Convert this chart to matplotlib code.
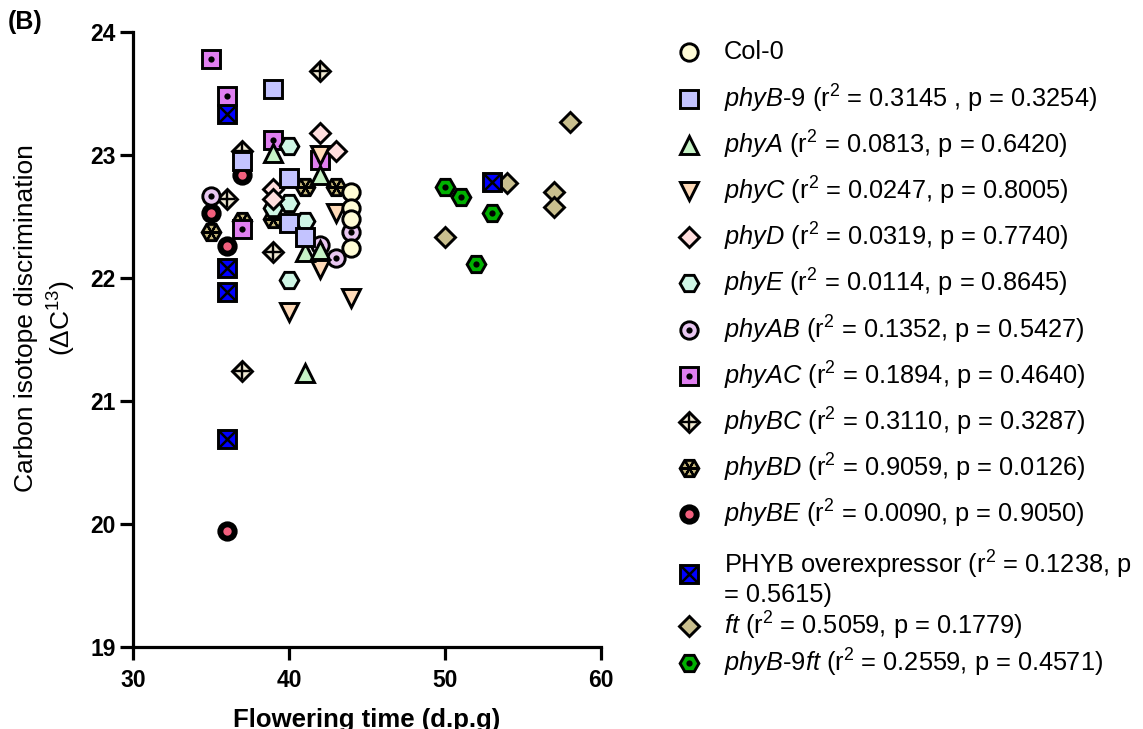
import matplotlib
matplotlib.use("Agg")
import matplotlib.pyplot as plt

plt.rcParams['font.family'] = ['Liberation Sans', 'DejaVu Sans']
plt.rcParams['mathtext.fontset'] = 'custom'
plt.rcParams['mathtext.rm'] = 'Liberation Sans'
plt.rcParams['mathtext.it'] = 'Liberation Sans:italic'
plt.rcParams['mathtext.bf'] = 'Liberation Sans:bold'

# flowering time (d.p.g) vs carbon isotope discrimination, per genotype
col0_x = [44, 44, 44, 44]
col0_y = [22.70, 22.57, 22.48, 22.24]
phyb9_x = [39, 37, 40, 40, 41]
phyb9_y = [23.54, 22.95, 22.81, 22.45, 22.33]
phya_x = [39, 42, 41, 42, 41]
phya_y = [23.02, 22.84, 22.21, 22.23, 21.23]
phyc_x = [42, 43, 42, 44, 40]
phyc_y = [23.00, 22.53, 22.07, 21.84, 21.72]
phyd_x = [42, 43, 39, 39]
phyd_y = [23.18, 23.03, 22.72, 22.64]
phye_x = [40, 40, 39, 41, 40]
phye_y = [23.07, 22.61, 22.57, 22.46, 21.98]
phyab_x = [35, 42, 43, 44]
phyab_y = [22.67, 22.27, 22.16, 22.37]
phyac_x = [35, 36, 39, 42, 37]
phyac_y = [23.78, 23.48, 23.12, 22.96, 22.40]
phybc_x = [42, 37, 36, 39, 37]
phybc_y = [23.68, 23.03, 22.64, 22.21, 21.24]
phybd_x = [35, 41, 43, 39, 37]
phybd_y = [22.37, 22.74, 22.74, 22.48, 22.46]
phybe_x = [37, 35, 36, 36]
phybe_y = [22.84, 22.53, 22.26, 19.94]
oe_x = [36, 36, 36, 36, 53]
oe_y = [23.33, 22.08, 21.89, 20.69, 22.78]
ft_x = [58, 54, 57, 57, 50]
ft_y = [23.27, 22.77, 22.70, 22.58, 22.33]
b9ft_x = [50, 51, 53, 52]
b9ft_y = [22.74, 22.66, 22.53, 22.11]

labels = [
    'Col-0',
    r'$\mathit{phyB}$-$\mathit{9}$ (r$^2$ = 0.3145 , p = 0.3254)',
    r'$\mathit{phyA}$ (r$^2$ = 0.0813, p = 0.6420)',
    r'$\mathit{phyC}$ (r$^2$ = 0.0247, p = 0.8005)',
    r'$\mathit{phyD}$ (r$^2$ = 0.0319, p = 0.7740)',
    r'$\mathit{phyE}$ (r$^2$ = 0.0114, p = 0.8645)',
    r'$\mathit{phyAB}$ (r$^2$ = 0.1352, p = 0.5427)',
    r'$\mathit{phyAC}$ (r$^2$ = 0.1894, p = 0.4640)',
    r'$\mathit{phyBC}$ (r$^2$ = 0.3110, p = 0.3287)',
    r'$\mathit{phyBD}$ (r$^2$ = 0.9059, p = 0.0126)',
    r'$\mathit{phyBE}$ (r$^2$ = 0.0090, p = 0.9050)',
    'PHYB overexpressor (r$^2$ = 0.1238, p\n= 0.5615)',
    r'$\mathit{ft}$ (r$^2$ = 0.5059, p = 0.1779)',
    r'$\mathit{phyB}$-$\mathit{9ft}$ (r$^2$ = 0.2559, p = 0.4571)',
]

# (marker, size, fill, overlay marker, overlay size, overlay colour, overlay edge width)
styles = [
    ('o', 12.5, '#FFFCD6', None, 0, None, 0),
    ('s', 12.5, '#C3C3FF', None, 0, None, 0),
    ('^', 13, '#C6F3C6', None, 0, None, 0),
    ('v', 13, '#FFDAB8', None, 0, None, 0),
    ('D', 10.5, '#FFDEDE', None, 0, None, 0),
    ('H', 13.5, '#CFF6E5', None, 0, None, 0),
    ('o', 12.5, '#E9C7F1', 'o', 4.5, 'black', 0),
    ('s', 12.5, '#E07FF0', 'o', 4.5, 'black', 0),
    ('D', 10, '#EFE8D2', '+', 11, 'black', 1.7),
    ('H', 13.5, '#C4B57A', (6, 2, 30), 12, 'black', 1.6),
    ('o', 12.5, 'black', 'o', 6, '#F2607E', 0),
    ('s', 12.5, '#0000FF', 'x', 12.5, 'black', 1.8),
    ('D', 10, '#C9BF8E', None, 0, None, 0),
    ('H', 13.5, '#00B000', 'o', 4.5, 'black', 0),
]

series = [(col0_x, col0_y), (phyb9_x, phyb9_y), (phya_x, phya_y), (phyc_x, phyc_y),
          (phyd_x, phyd_y), (phye_x, phye_y), (phyab_x, phyab_y), (phyac_x, phyac_y),
          (phybc_x, phybc_y), (phybd_x, phybd_y), (phybe_x, phybe_y), (oe_x, oe_y),
          (ft_x, ft_y), (b9ft_x, b9ft_y)]


def draw(ax, x, y, style, z):
    m, ms, fc, om, oms, oc, omew = style
    ax.plot(x, y, linestyle='none', marker=m, markersize=ms, markerfacecolor=fc,
            markeredgecolor='black', markeredgewidth=2.1, zorder=z, clip_on=False)
    if om is not None:
        ax.plot(x, y, linestyle='none', marker=om, markersize=oms, markerfacecolor=oc,
                markeredgecolor=oc, markeredgewidth=omew, zorder=z + 0.5, clip_on=False)


fig = plt.figure(figsize=(11.43, 7.29), dpi=100)
ax = fig.add_axes([133 / 1143, 1 - 647 / 729, 468 / 1143, 615 / 729])

# first genotype ends up on top
for i, ((x, y), st) in enumerate(zip(series, styles)):
    draw(ax, x, y, st, 100 - 2 * i)

ax.set_xlim(30, 60)
ax.set_ylim(19, 24)
ax.set_xticks([30, 40, 50, 60])
ax.set_yticks([19, 20, 21, 22, 23, 24])
for s in ['top', 'right']:
    ax.spines[s].set_visible(False)
for s in ['left', 'bottom']:
    ax.spines[s].set_linewidth(2.3)
ax.tick_params(width=2.3, length=9.5, labelsize=16.5)
ax.tick_params(axis='x', pad=6)
ax.tick_params(axis='y', pad=3)
for t in ax.get_xticklabels() + ax.get_yticklabels():
    t.set_fontweight('bold')
ax.set_xlabel('Flowering time (d.p.g)', fontsize=18.5, fontweight='bold', labelpad=12)

fig.text(46 / 1143, 1 - 318 / 729, 'Carbon isotope discrimination\n(\u0394C$^{13}$)',
         rotation=90, ha='center', va='center', fontsize=19, linespacing=1.3,
         multialignment='center')
fig.text(8 / 1143, 1 - 22 / 729, '(B)', fontsize=18, fontweight='bold', va='center')

# legend drawn in pixel coordinates on an overlay axes
lax = fig.add_axes([0, 0, 1, 1])
lax.set_xlim(0, 1143)
lax.set_ylim(729, 0)
lax.axis('off')
rows = [52, 99, 145, 191, 237, 283, 330, 376, 422, 468, 514, 574, 626, 663]
text_rows = rows[:11] + [578] + rows[12:]
for i, (st, lab) in enumerate(zip(styles, labels)):
    draw(lax, [689], [rows[i]], st, 10)
    lax.text(724, text_rows[i], lab, fontsize=18.3, va='center', ha='left', linespacing=1.1)

fig.savefig('out.png', dpi=100)
